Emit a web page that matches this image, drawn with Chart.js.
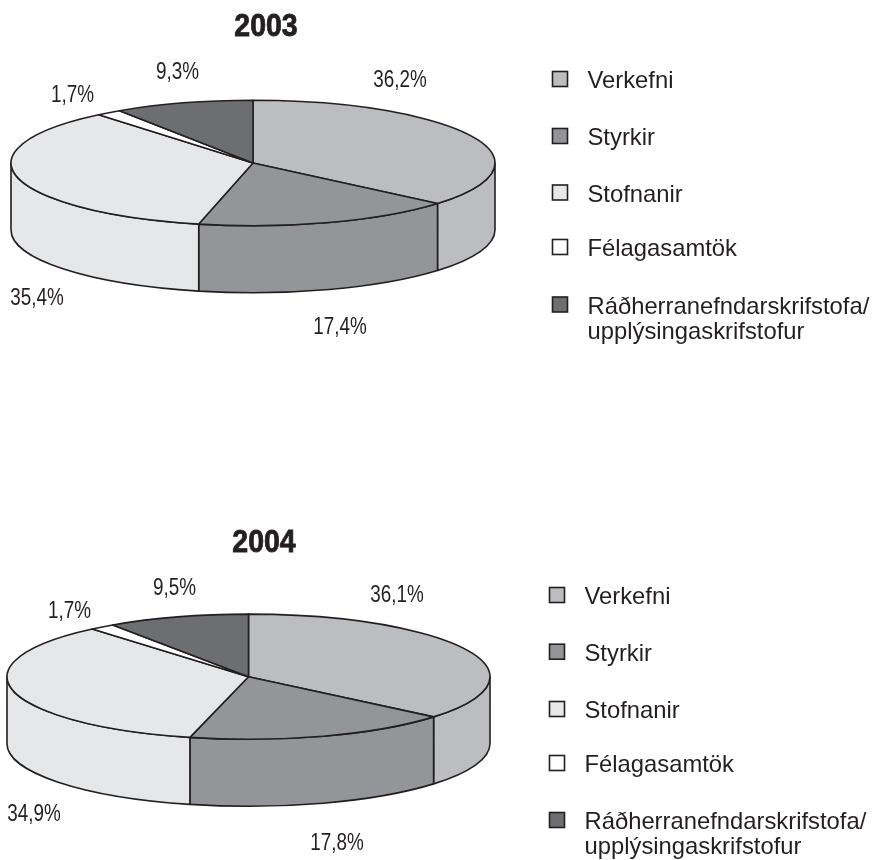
<!DOCTYPE html>
<html><head><meta charset="utf-8">
<script src="https://cdn.jsdelivr.net/npm/chart.js@4"></script>
<style>
html,body{margin:0;padding:0;background:#fff;}
#wrap{position:relative;width:872px;height:860px;overflow:hidden;}
canvas{position:absolute;left:0;}
</style></head><body>
<div id="wrap">
<canvas id="c2003" style="top:0" width="872" height="430"></canvas>
<canvas id="c2004" style="top:430px" width="872" height="430"></canvas>
</div>
<script>
const categories = ["Verkefni","Styrkir","Stofnanir","Félagasamtök","Ráðherranefndarskrifstofa/\nupplýsingaskrifstofur"];
const values2003 = [36.2,17.4,35.4,1.7,9.3];
const values2004 = [36.1,17.8,34.9,1.7,9.5];
const labels2003 = ["36,2%","17,4%","35,4%","1,7%","9,3%"];
const labels2004 = ["36,1%","17,8%","34,9%","1,7%","9,5%"];
const topColors = ["#bcbdc0","#939598","#e6e7e8","#ffffff","#6d6e71"];
const FONT = '"Liberation Sans", Arial, sans-serif';
const TEXTC = "#231f20";

const pie3d = {
  id:'pie3d',
  beforeDatasetDraw(chart,args,opts){
    const ctx = chart.ctx, arcs = chart.getDatasetMeta(0).data;
    const k = opts.squash, depth = opts.depth, cx = opts.cx, cy = opts.cy;
    const R = opts.radius;
    const P = a => [cx + R*Math.cos(a), cy + R*k*Math.sin(a)];
    ctx.save();
    ctx.strokeStyle = TEXTC; ctx.lineWidth = 1.6; ctx.lineJoin='round';
    arcs.forEach((arc,i)=>{
      const {startAngle,endAngle} = arc.getProps(['startAngle','endAngle'],true);
      [[startAngle,endAngle],[startAngle-2*Math.PI,endAngle-2*Math.PI]].forEach(([a0,b0])=>{
        const a=Math.max(a0,0), b=Math.min(b0,Math.PI);
        if(b<=a) return;
        ctx.beginPath();
        ctx.ellipse(cx,cy,R,R*k,0,a,b,false);
        ctx.lineTo(P(b)[0],P(b)[1]+depth);
        ctx.ellipse(cx,cy+depth,R,R*k,0,b,a,true);
        ctx.closePath();
        ctx.fillStyle = topColors[i];
        ctx.fill(); ctx.stroke();
      });
    });
    arcs.forEach((arc,i)=>{
      const {startAngle,endAngle} = arc.getProps(['startAngle','endAngle'],true);
      ctx.beginPath();
      ctx.moveTo(cx,cy);
      ctx.ellipse(cx,cy,R,R*k,0,startAngle,endAngle,false);
      ctx.closePath();
      ctx.fillStyle = topColors[i];
      ctx.fill(); ctx.stroke();
    });
    ctx.restore();
    return false;
  }
};
function narrow(ctx,t,x,y,f){ ctx.fillText(t,x,y,ctx.measureText(t).width*f); }
const texts = {
  id:'texts',
  afterDraw(chart,args,opts){
    const ctx = chart.ctx;
    ctx.save();
    ctx.textBaseline='middle';
    ctx.fillStyle=TEXTC;
    ctx.textAlign='center';
    ctx.font='700 31px '+FONT;
    ctx.strokeStyle=TEXTC; ctx.lineWidth=0.8;
    const tw=ctx.measureText(opts.title).width*0.92;
    ctx.fillText(opts.title,opts.titleX,opts.titleY+1.5,tw);
    ctx.strokeText(opts.title,opts.titleX,opts.titleY+1.5,tw);
    ctx.font='23px '+FONT;
    opts.labels.forEach((t,i)=>narrow(ctx,t,opts.labelPos[i][0],opts.labelPos[i][1]+2,0.82));
    ctx.textAlign='left';
    ctx.font='23.8px '+FONT;
    categories.forEach((c,i)=>{
      const y=opts.legendY[i];
      ctx.fillStyle=topColors[i];
      ctx.strokeStyle=TEXTC; ctx.lineWidth=1.6;
      ctx.fillRect(opts.legendX,y-7.5,15,15);
      ctx.strokeRect(opts.legendX,y-7.5,15,15);
      ctx.fillStyle=TEXTC;
      c.split("\n").forEach((ln,j)=>ctx.fillText(ln,opts.legendX+35,y+2.5+j*25));
    });
    ctx.restore();
  }
};
function make(id,values,labels,title,o){
  new Chart(document.getElementById(id),{
    type:'pie',
    data:{labels:categories,datasets:[{data:values,backgroundColor:topColors,borderWidth:0}]},
    plugins:[pie3d,texts],
    options:{
      responsive:false,animation:false,
      plugins:{legend:{display:false},tooltip:{enabled:false},
        pie3d:{cx:o.cx,cy:o.cy,radius:o.R,squash:o.k,depth:o.depth},
        texts:{title,titleX:o.titleX,titleY:o.titleY,labels,labelPos:o.labelPos,legendX:o.legendX,legendY:o.legendY}
      }
    }
  });
}
make('c2003',values2003,labels2003,"2003",{cx:253,cy:163,R:242,k:0.259,depth:67,titleX:266,titleY:26,
  labelPos:[[400,79],[340,326],[37,297],[72.5,94],[177.5,71]],legendX:552.5,legendY:[79,136,192.5,247,304.5]});
make('c2004',values2004,labels2004,"2004",{cx:248.5,cy:246.7,R:241.5,k:0.259,depth:67,titleX:264,titleY:112,
  labelPos:[[397,164],[337,412],[34,383],[69.5,180],[174.5,157]],legendX:549.5,legendY:[165,221.7,279,333,390]});
</script>
</body></html>
